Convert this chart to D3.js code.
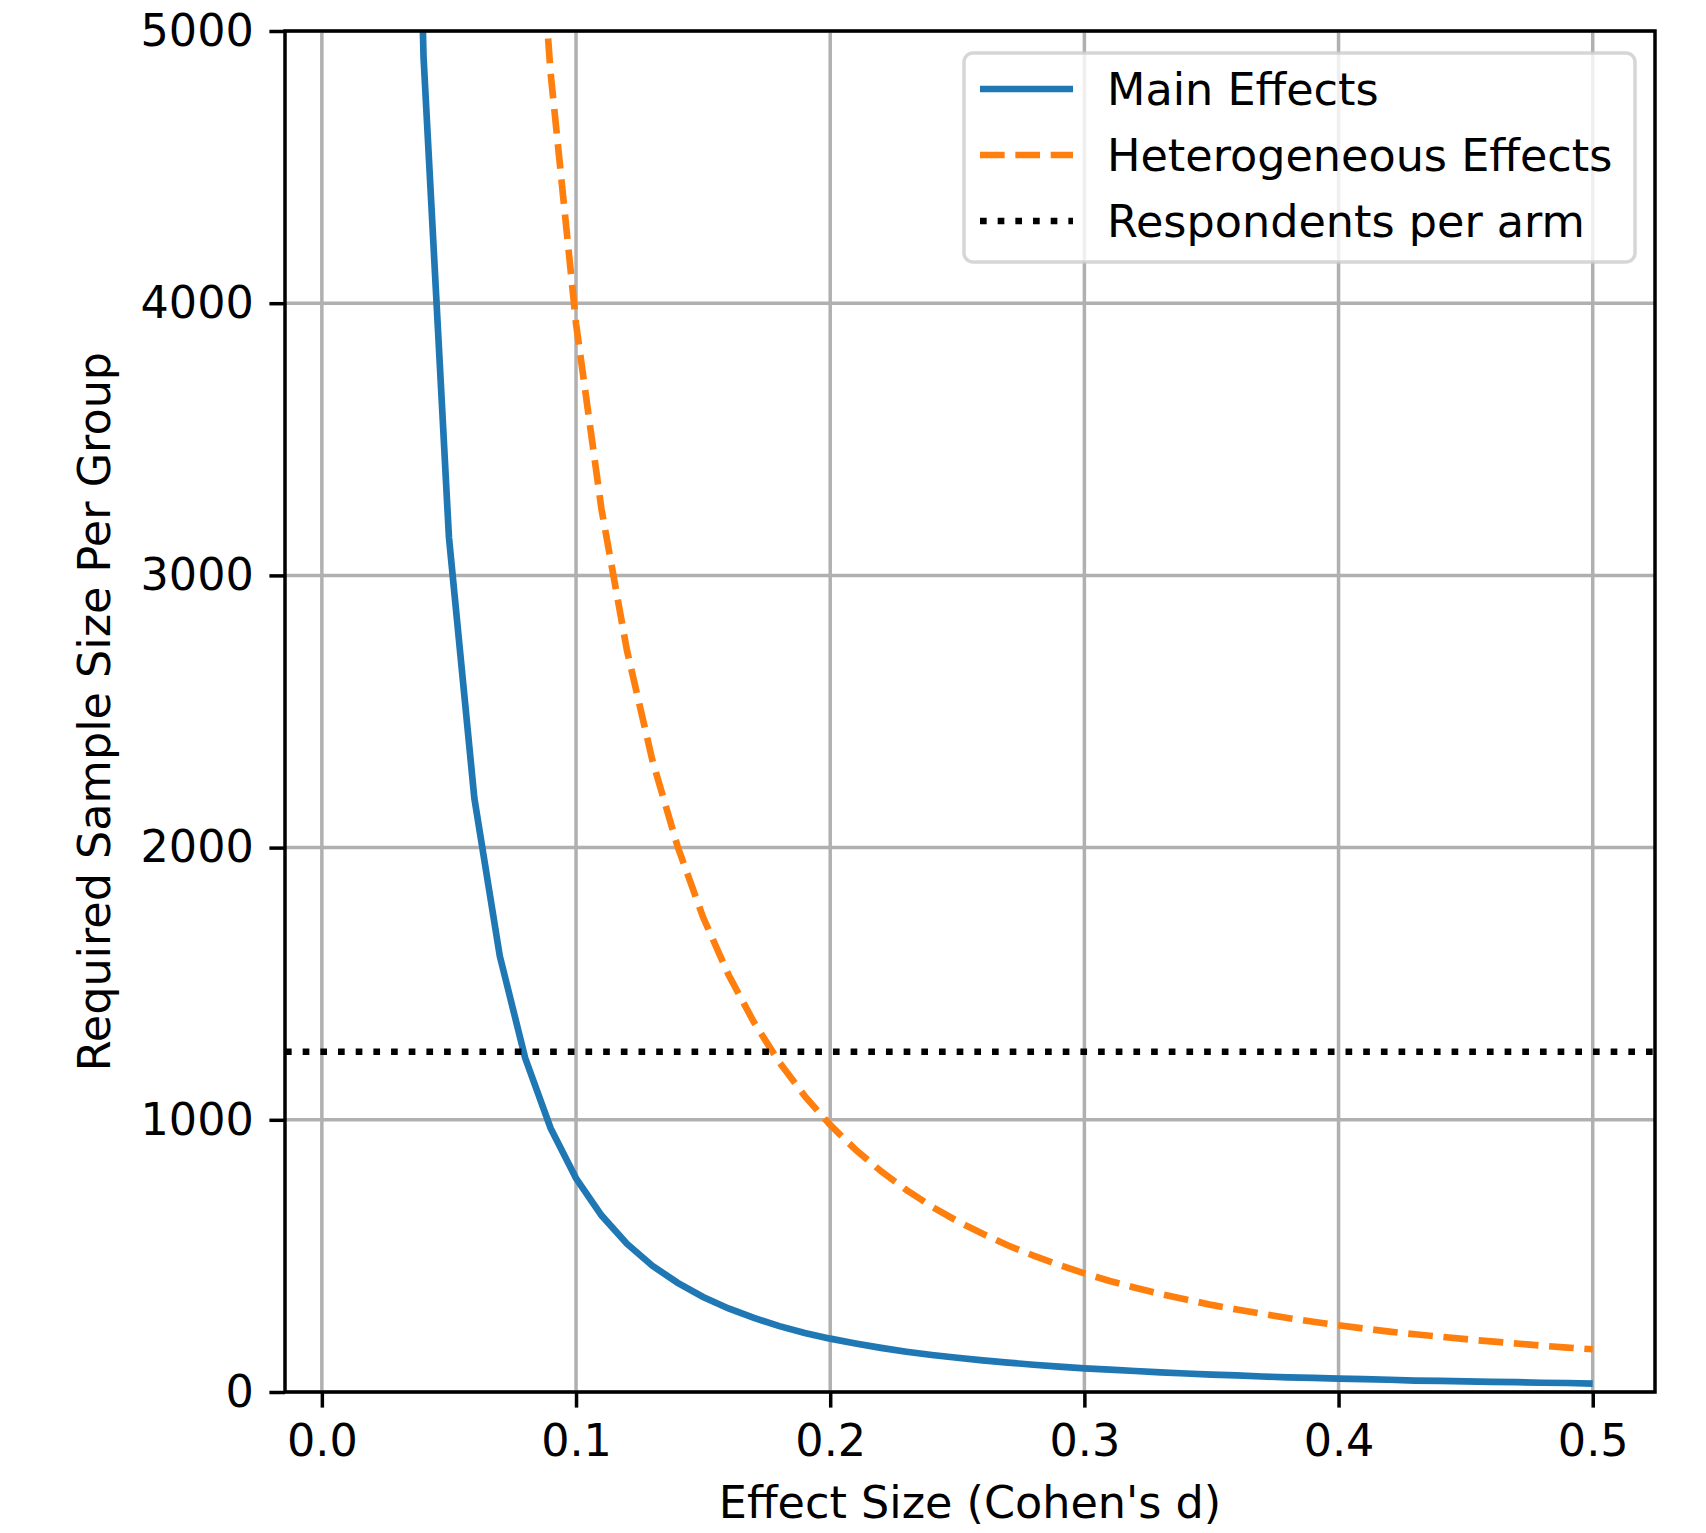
<!DOCTYPE html>
<html>
<head>
<meta charset="utf-8">
<script src="https://cdn.jsdelivr.net/npm/d3@7"></script>
<style>
  body { margin: 0; background: #fff; }
  text { font-family: "DejaVu Sans", sans-serif; fill: #000; }
</style>
</head>
<body>
<div id="chart"></div>
<script>
// effect sizes (Cohen's d)
var effectSizes = [0.01, 0.02, 0.03, 0.04, 0.05, 0.06, 0.07, 0.08, 0.09, 0.10,
  0.11, 0.12, 0.13, 0.14, 0.15, 0.16, 0.17, 0.18, 0.19, 0.20,
  0.21, 0.22, 0.23, 0.24, 0.25, 0.26, 0.27, 0.28, 0.29, 0.30,
  0.31, 0.32, 0.33, 0.34, 0.35, 0.36, 0.37, 0.38, 0.39, 0.40,
  0.41, 0.42, 0.43, 0.44, 0.45, 0.46, 0.47, 0.48, 0.49, 0.50];

var mainEffects = [78500, 19625, 8722, 4906, 3140, 2181, 1602, 1227, 969, 785,
  649, 545, 464, 401, 349, 307, 272, 242, 217, 196,
  178, 162, 148, 136, 126, 116, 108, 100, 93, 87,
  82, 77, 72, 68, 64, 61, 57, 54, 52, 49,
  47, 45, 42, 41, 39, 37, 36, 34, 33, 31];

var heteroEffects = [392500, 98125, 43611, 24531, 15700, 10903, 8010, 6133, 4846, 3925,
  3244, 2726, 2322, 2003, 1744, 1533, 1358, 1211, 1087, 981,
  890, 811, 742, 681, 628, 581, 538, 501, 467, 436,
  408, 383, 360, 340, 320, 303, 287, 272, 258, 245,
  233, 222, 212, 203, 194, 186, 178, 170, 163, 157];

var respondentsPerArm = 1250;

var xTicks = [0.0, 0.1, 0.2, 0.3, 0.4, 0.5];
var yTicks = [0, 1000, 2000, 3000, 4000, 5000];

var legendLabels = ["Main Effects", "Heterogeneous Effects", "Respondents per arm"];

var W = 1706, H = 1533;
var margin = { top: 31, right: 51, bottom: 141, left: 285 };
var width = W - margin.left - margin.right;
var height = H - margin.top - margin.bottom;
var lw = 6.67;      // 1.5pt
var thin = 3.5;     // 0.8pt
var tickLen = 15.6; // 3.5pt
var fontSize = 44.5;

var svg = d3.select("#chart").append("svg")
    .attr("width", W)
    .attr("height", H);

var x = d3.scaleLinear().domain([-0.0145, 0.5245]).range([0, width]);
var y = d3.scaleLinear().domain([0, 5000]).range([height, 0]);

svg.append("defs").append("clipPath").attr("id", "clip")
  .append("rect").attr("width", width).attr("height", height);

var g = svg.append("g")
    .attr("transform", "translate(" + margin.left + "," + margin.top + ")");

// grid
g.append("g").selectAll("line").data(xTicks).enter().append("line")
    .attr("x1", function(d) { return x(d); })
    .attr("x2", function(d) { return x(d); })
    .attr("y1", 0).attr("y2", height)
    .attr("stroke", "#b0b0b0").attr("stroke-width", thin);
g.append("g").selectAll("line").data(yTicks).enter().append("line")
    .attr("y1", function(d) { return y(d); })
    .attr("y2", function(d) { return y(d); })
    .attr("x1", 0).attr("x2", width)
    .attr("stroke", "#b0b0b0").attr("stroke-width", thin);

var pts = function(vals) {
  return effectSizes.map(function(d, i) { return [d, vals[i]]; });
};
var line = d3.line()
    .x(function(d) { return x(d[0]); })
    .y(function(d) { return y(d[1]); });

var dashed = (3.7 * lw) + "," + (1.6 * lw);
var dotted = (1 * lw) + "," + (1.65 * lw);

var plot = g.append("g").attr("clip-path", "url(#clip)");

plot.append("path")
    .attr("d", line(pts(mainEffects)))
    .attr("fill", "none")
    .attr("stroke", "#1f77b4")
    .attr("stroke-width", lw);

plot.append("path")
    .attr("d", line(pts(heteroEffects)))
    .attr("fill", "none")
    .attr("stroke", "#ff7f0e")
    .attr("stroke-width", lw)
    .attr("stroke-dasharray", dashed);

plot.append("line")
    .attr("x1", 0).attr("x2", width)
    .attr("y1", y(respondentsPerArm)).attr("y2", y(respondentsPerArm))
    .attr("stroke", "#000")
    .attr("stroke-width", lw)
    .attr("stroke-dasharray", dotted);

// axes
var xAxis = d3.axisBottom(x).tickValues(xTicks).tickFormat(d3.format(".1f"))
    .tickSize(tickLen).tickPadding(17);
var yAxis = d3.axisLeft(y).tickValues(yTicks).tickFormat(d3.format("d"))
    .tickSize(tickLen).tickPadding(15.6);

var gx = g.append("g").attr("transform", "translate(0," + height + ")").call(xAxis);
var gy = g.append("g").call(yAxis);
[gx, gy].forEach(function(a) {
  a.select(".domain").remove();
  a.selectAll(".tick line").attr("stroke", "#000").attr("stroke-width", thin);
  a.selectAll(".tick text").attr("font-size", fontSize)
    .attr("font-family", "DejaVu Sans, sans-serif").attr("fill", "#000");
});

// frame
g.append("rect")
    .attr("width", width).attr("height", height)
    .attr("fill", "none").attr("stroke", "#000").attr("stroke-width", thin);

// axis labels
svg.append("text")
    .attr("x", margin.left + width / 2)
    .attr("y", 1518)
    .attr("text-anchor", "middle")
    .attr("font-size", fontSize)
    .text("Effect Size (Cohen's d)");

svg.append("text")
    .attr("transform", "translate(110," + (margin.top + height / 2) + ") rotate(-90)")
    .attr("text-anchor", "middle")
    .attr("font-size", fontSize)
    .text("Required Sample Size Per Group");

// legend
var legend = svg.append("g");
legend.append("rect")
    .attr("x", 964).attr("y", 53)
    .attr("width", 671).attr("height", 209)
    .attr("rx", 9).attr("ry", 9)
    .attr("fill", "#fff").attr("fill-opacity", 0.8)
    .attr("stroke", "#cccccc").attr("stroke-opacity", 0.8).attr("stroke-width", thin);

var legendStyles = [
  { color: "#1f77b4", dash: null },
  { color: "#ff7f0e", dash: dashed },
  { color: "#000", dash: dotted }
];
var rows = legend.selectAll("g.row").data(legendLabels).enter().append("g")
    .attr("class", "row")
    .attr("transform", function(d, i) { return "translate(0," + (89 + i * 66) + ")"; });
rows.append("line")
    .attr("x1", 980).attr("x2", 1073)
    .attr("stroke", function(d, i) { return legendStyles[i].color; })
    .attr("stroke-width", lw)
    .attr("stroke-dasharray", function(d, i) { return legendStyles[i].dash; });
rows.append("text")
    .attr("x", 1107)
    .attr("dy", "0.36em")
    .attr("font-size", fontSize)
    .text(function(d) { return d; });
</script>
</body>
</html>
